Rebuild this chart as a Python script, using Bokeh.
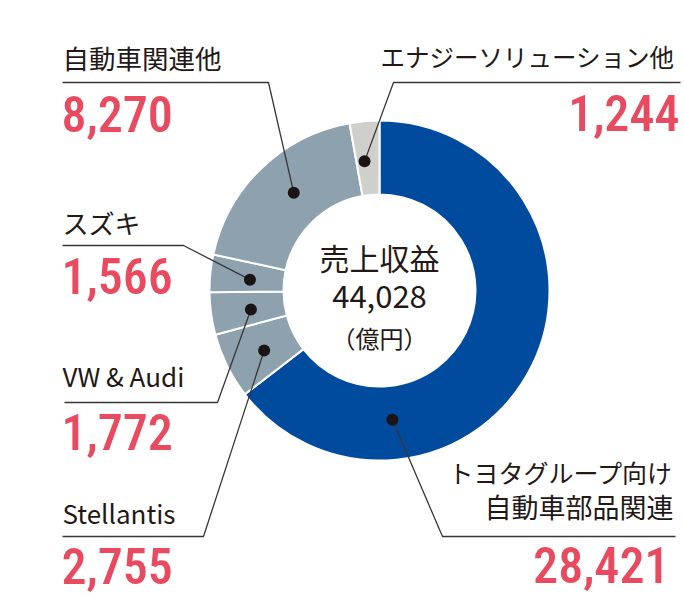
import math
from bokeh.plotting import figure
from bokeh.models import Range1d, ColumnDataSource
from bokeh.core.properties import value
from bokeh.embed import file_html
from bokeh.resources import INLINE

# ---- data ----
categories = ["トヨタグループ向け\n自動車部品関連", "Stellantis", "VW & Audi",
              "スズキ", "自動車関連他", "エナジーソリューション他"]
values = [28421, 2755, 1772, 1566, 8270, 1244]
slice_colors = ["#004b9e", "#8da2ae", "#8da2ae", "#8da2ae", "#8da2ae", "#cfd0cb"]
center_title = "売上収益"
center_unit = "（億円）"

# ---- layout (screen px) ----
CX, CY = 379, 290
R_OUT, R_IN, R_DOT = 170, 96, 130
dot_frac = [0.75, 0.45, 0.46, 0.42, 0.54, 0.35]   # dot position within slice
layout = [
    dict(lx=673, align="right", ly=[471, 506], fs=["25px", "27px"], l0=675, ly0=536, bend=442, nx=669, ny=564),
    dict(lx=62, align="left", ly=[512], fs=["26px"], l0=62, ly0=536, bend=203, nx=61, ny=565),
    dict(lx=62, align="left", ly=[375], fs=["26px"], l0=64, ly0=402, bend=217, nx=61, ny=431),
    dict(lx=62, align="left", ly=[222], fs=["26px"], l0=62, ly0=245, bend=183, nx=61, ny=275),
    dict(lx=62, align="left", ly=[57], fs=["26.5px"], l0=62, ly0=82, bend=268, nx=61, ny=113),
    dict(lx=674, align="right", ly=[56], fs=["24.5px"], l0=680, ly0=82, bend=393, nx=679, ny=112),
]

TEXT_COLOR = "#231815"
NUM_COLOR = "#e84a5f"
LINE_COLOR = "#3a3535"
JP_FONT = "Noto Sans CJK JP"
NUM_FONT = "Roboto Condensed Medium, Roboto Condensed, Roboto"

W, H = 684, 597
p = figure(width=W, height=H, x_range=Range1d(0, W), y_range=Range1d(-H, 0),
           output_backend="svg", toolbar_location=None, x_axis_type=None, y_axis_type=None,
           min_border=0)
p.outline_line_color = None
p.grid.visible = False

total = sum(values)
theta0 = []
theta1 = []
acc = 0.0
for v in values:
    theta0.append(acc / total * 360.0)
    acc += v
    theta1.append(acc / total * 360.0)

src = ColumnDataSource(dict(
    start=[math.radians(90 - t1) for t1 in theta1],
    end=[math.radians(90 - t0) for t0 in theta0],
    color=slice_colors,
))
p.annular_wedge(x=CX, y=-CY, inner_radius=R_IN, outer_radius=R_OUT,
                inner_radius_units="screen", outer_radius_units="screen",
                start_angle="start", end_angle="end", direction="anticlock",
                fill_color="color", line_color="white", line_width=2, source=src)

# dots and leaders
dx, dy, xs, ys = [], [], [], []
for i in range(len(values)):
    th = theta0[i] + dot_frac[i] * (theta1[i] - theta0[i])
    px = CX + R_DOT * math.sin(math.radians(th))
    py = CY - R_DOT * math.cos(math.radians(th))
    dx.append(px)
    dy.append(-py)
    L = layout[i]
    xs.append([L["l0"], L["bend"], px])
    ys.append([-L["ly0"], -L["ly0"], -py])
p.multi_line(xs=xs, ys=ys, line_color=LINE_COLOR, line_width=1.3)
p.scatter(x=dx, y=dy, size=12, fill_color="#1a1414", line_color=None)

# labels
for i, cat in enumerate(categories):
    L = layout[i]
    parts = cat.split("\n")
    for part, yy, fs in zip(parts, L["ly"], L["fs"]):
        p.text(x=[L["lx"]], y=[-yy], text=[part], text_align=L["align"],
               text_baseline="middle", text_font=value(JP_FONT), text_font_size=fs,
               text_color=TEXT_COLOR)
    p.text(x=[L["nx"]], y=[-L["ny"]], text=[f"{values[i]:,}"],
           text_align=L["align"], text_baseline="middle",
           text_font=value(NUM_FONT), text_font_style="normal",
           text_font_size="50px", text_color=NUM_COLOR)

# center text
p.text(x=[CX], y=[-256], text=[center_title], text_align="center", text_baseline="middle",
       text_font=value(JP_FONT), text_font_size="30px", text_color=TEXT_COLOR)
p.text(x=[CX], y=[-296], text=[f"{total:,}"], text_align="center", text_baseline="middle",
       text_font=value(JP_FONT), text_font_size="31px", text_color=TEXT_COLOR)
p.text(x=[CX], y=[-337], text=[center_unit], text_align="center", text_baseline="middle",
       text_font=value(JP_FONT), text_font_size="24px", text_color=TEXT_COLOR)

open("out.html", "w").write(file_html(p, INLINE))
